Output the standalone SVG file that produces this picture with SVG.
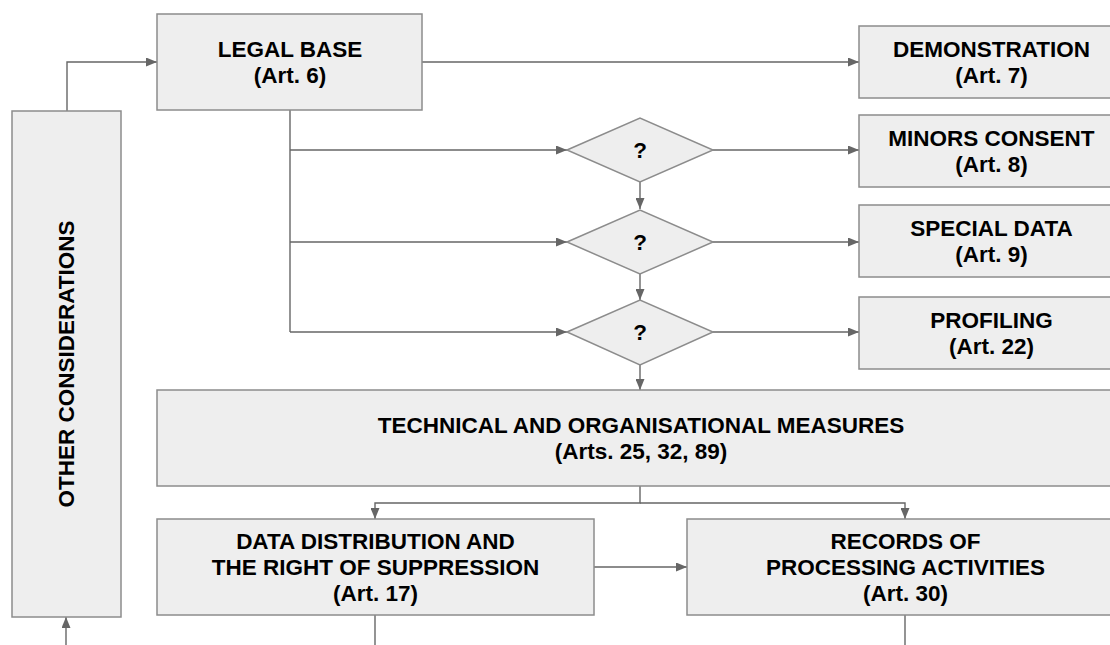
<svg xmlns="http://www.w3.org/2000/svg" width="1110" height="645" viewBox="0 0 1110 645">
<style>
.box{fill:#eeeeee;stroke:#8c8c8c;stroke-width:1.5}
.t{font-family:"Liberation Sans",Arial,sans-serif;font-weight:bold;font-size:22.5px;fill:#000;text-anchor:middle}
.q{font-family:"Liberation Sans",Arial,sans-serif;font-weight:bold;font-size:22.5px;fill:#000;text-anchor:middle}
.c{fill:none;stroke:#666666;stroke-width:1.4}
</style>
<defs>
<marker id="ah" markerUnits="userSpaceOnUse" markerWidth="11" markerHeight="9" refX="11" refY="4.5" orient="auto">
<path d="M0,0 L11,4.5 L0,9 z" fill="#666666"/>
</marker>
</defs>
<rect width="1110" height="645" fill="#ffffff"/>
<g id="connectors">
<path class="c" d="M67,111 V62 H157" marker-end="url(#ah)"/>
<path class="c" d="M422,62 H859" marker-end="url(#ah)"/>
<path class="c" d="M290,110 V332"/>
<path class="c" d="M290,150 H567" marker-end="url(#ah)"/>
<path class="c" d="M290,242 H567" marker-end="url(#ah)"/>
<path class="c" d="M290,332 H567" marker-end="url(#ah)"/>
<path class="c" d="M713,150 H859" marker-end="url(#ah)"/>
<path class="c" d="M713,242 H859" marker-end="url(#ah)"/>
<path class="c" d="M713,332 H859" marker-end="url(#ah)"/>
<path class="c" d="M640,182 V209" marker-end="url(#ah)"/>
<path class="c" d="M640,274 V300" marker-end="url(#ah)"/>
<path class="c" d="M640,365 V390" marker-end="url(#ah)"/>
<path class="c" d="M640,486 V503 H375 V519" marker-end="url(#ah)"/>
<path class="c" d="M640,503 H905 V519" marker-end="url(#ah)"/>
<path class="c" d="M594,567 H687" marker-end="url(#ah)"/>
<path class="c" d="M375,615 V645"/>
<path class="c" d="M905,615 V645"/>
<path class="c" d="M66,645 V617" marker-end="url(#ah)"/>
</g>
<g id="other">
<rect class="box" x="12" y="111" width="109" height="506"/>
<text class="t" transform="translate(74,364) rotate(-90)" x="0" y="0">OTHER CONSIDERATIONS</text>
</g>
<g id="legal">
<rect class="box" x="157" y="14" width="265" height="96"/>
<text class="t" x="290" y="57">LEGAL BASE</text>
<text class="t" x="290" y="83">(Art. 6)</text>
</g>
<g id="demonstration">
<rect class="box" x="859" y="26" width="265" height="72"/>
<text class="t" x="991.5" y="57">DEMONSTRATION</text>
<text class="t" x="991.5" y="83">(Art. 7)</text>
</g>
<g id="d1">
<polygon class="box" points="567,150 640,118 713,150 640,182"/>
<text class="q" x="640" y="158">?</text>
</g>
<g id="minors">
<rect class="box" x="859" y="115" width="265" height="72"/>
<text class="t" x="991.5" y="146">MINORS CONSENT</text>
<text class="t" x="991.5" y="172">(Art. 8)</text>
</g>
<g id="d2">
<polygon class="box" points="567,242 640,210 713,242 640,274"/>
<text class="q" x="640" y="250">?</text>
</g>
<g id="special">
<rect class="box" x="859" y="205" width="265" height="72"/>
<text class="t" x="991.5" y="236">SPECIAL DATA</text>
<text class="t" x="991.5" y="262">(Art. 9)</text>
</g>
<g id="d3">
<polygon class="box" points="567,332 640,300 713,332 640,365"/>
<text class="q" x="640" y="340">?</text>
</g>
<g id="profiling">
<rect class="box" x="859" y="297" width="265" height="72"/>
<text class="t" x="991.5" y="328">PROFILING</text>
<text class="t" x="991.5" y="354">(Art. 22)</text>
</g>
<g id="technical">
<rect class="box" x="157" y="390" width="968" height="96"/>
<text class="t" x="641" y="433">TECHNICAL AND ORGANISATIONAL MEASURES</text>
<text class="t" x="641" y="459">(Arts. 25, 32, 89)</text>
</g>
<g id="distribution">
<rect class="box" x="157" y="519" width="437" height="96"/>
<text class="t" x="375.5" y="549">DATA DISTRIBUTION AND</text>
<text class="t" x="375.5" y="575">THE RIGHT OF SUPPRESSION</text>
<text class="t" x="375.5" y="601">(Art. 17)</text>
</g>
<g id="records">
<rect class="box" x="687" y="519" width="437" height="96"/>
<text class="t" x="905.5" y="549">RECORDS OF</text>
<text class="t" x="905.5" y="575">PROCESSING ACTIVITIES</text>
<text class="t" x="905.5" y="601">(Art. 30)</text>
</g>
</svg>
